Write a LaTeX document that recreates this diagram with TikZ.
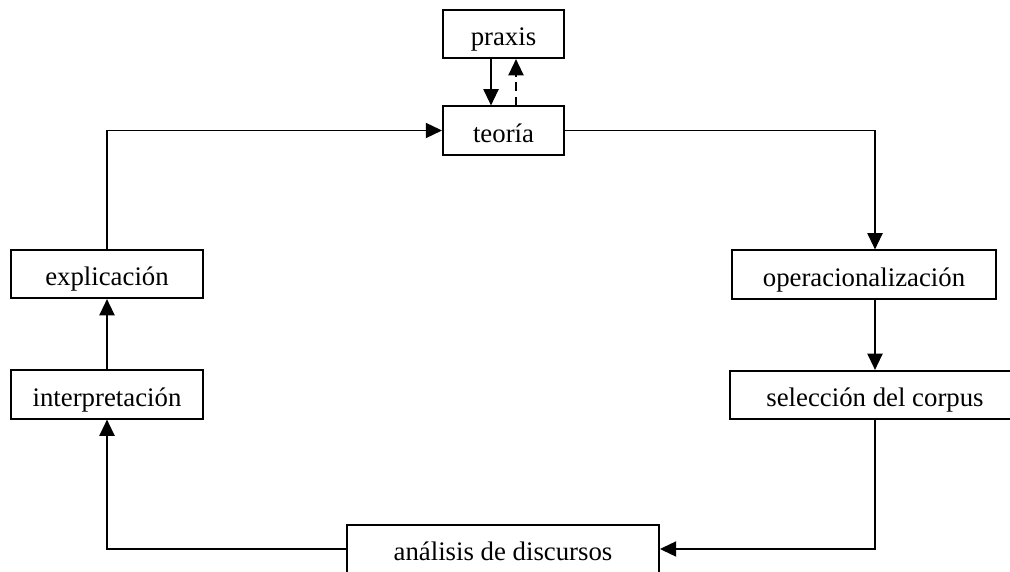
\documentclass[tikz,border=0pt]{standalone}
\usepackage{fontspec}
\setmainfont{Liberation Serif}
\usetikzlibrary{arrows.meta}
\tikzset{
  box/.style={draw, line width=0.9pt, minimum height=0.77cm, inner sep=0pt,
    text height=10.5pt, text depth=0pt, font=\fontsize{12.2}{14}\selectfont},
  link/.style={line width=0.9pt, -{Triangle[length=0.26cm,width=0.24cm]}}
}
\begin{document}
\begin{tikzpicture}[x=0.016cm, y=-0.016cm]
\clip (0,0) rectangle (1010,572);
\node[box, minimum width=1.936cm] (praxis) at (503.5,34) {praxis};
\node[box, minimum width=1.936cm] (teoria) at (503.5,130.5) {teoría};
\node[box, minimum width=3.072cm] (explicacion) at (107,274) {explicación};
\node[box, minimum width=3.072cm] (interpretacion) at (107,394.5) {interpretación};
\node[box, minimum width=4.224cm] (operacionalizacion) at (864,274.5) {operacionalización};
\node[box, minimum width=4.64cm] (seleccion) at (875,395) {selección del corpus};
\node[box, minimum width=4.992cm] (analisis) at (503,549) {análisis de discursos};
\draw[link] ([xshift=-0.2cm]praxis.south) -- ([xshift=-0.2cm]teoria.north);
\draw[link, dash pattern=on 4pt off 2.5pt] ([xshift=0.2cm]teoria.north) -- ([xshift=0.2cm]praxis.south);
\draw[link] (teoria.east) -| (operacionalizacion.north -| seleccion.north);
\draw[link] (operacionalizacion.south -| seleccion.north) -- (seleccion.north);
\draw[link] (seleccion.south) |- (analisis.east);
\draw[link] (analisis.west) -| (interpretacion.south);
\draw[link] (interpretacion.north) -- (explicacion.south);
\draw[link] (explicacion.north) |- (teoria.west);
\end{tikzpicture}
\end{document}
